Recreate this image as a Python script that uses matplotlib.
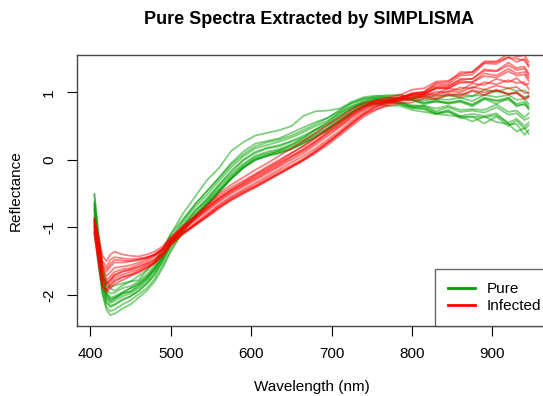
import matplotlib
matplotlib.use("Agg")
import matplotlib.pyplot as plt
from matplotlib.lines import Line2D

plt.rcParams["font.family"] = ["Liberation Sans", "DejaVu Sans"]

wavelength = [405, 410, 415, 420, 425, 430, 440, 450, 460, 470, 480, 490, 500,
              515, 530, 545, 560, 575, 590, 605, 620, 635, 650, 665, 680, 695,
              710, 725, 740, 755, 770, 785, 800, 815, 830, 845, 860, 875, 890,
              905, 920, 930, 940, 945]

# ---- Pure spectra (green) ----
pure = [
    [-0.52, -1.12, -1.59, -1.86, -1.9, -1.94, -1.86, -1.8, -1.78, -1.64, -1.52, -1.33, -1.1, -0.8, -0.55, -0.3, -0.12, 0.13, 0.26, 0.36, 0.4, 0.44, 0.5, 0.65, 0.72, 0.73, 0.76, 0.86, 0.93, 0.95, 0.94, 0.97, 0.91, 0.94, 0.9, 0.96, 0.92, 0.95, 0.96, 1.02, 0.97, 1.0, 0.93, 0.95],
    [-0.95, -1.5, -1.98, -2.22, -2.3, -2.28, -2.2, -2.14, -2.04, -1.94, -1.8, -1.6, -1.36, -1.06, -0.84, -0.66, -0.47, -0.28, -0.12, 0.0, 0.06, 0.14, 0.22, 0.33, 0.45, 0.56, 0.7, 0.79, 0.85, 0.84, 0.8, 0.8, 0.74, 0.71, 0.68, 0.66, 0.64, 0.57, 0.64, 0.56, 0.53, 0.42, 0.47, 0.39],
    [-0.62, -1.18, -1.66, -1.92, -1.98, -1.97, -1.9, -1.87, -1.8, -1.7, -1.56, -1.38, -1.16, -0.9, -0.66, -0.46, -0.26, -0.05, 0.12, 0.24, 0.28, 0.32, 0.4, 0.48, 0.56, 0.62, 0.74, 0.84, 0.9, 0.92, 0.93, 0.9, 0.89, 0.84, 0.88, 0.84, 0.87, 0.81, 0.91, 0.87, 0.89, 0.81, 0.82, 0.77],
    [-0.88, -1.42, -1.88, -2.1, -2.16, -2.14, -2.06, -2.02, -1.94, -1.83, -1.7, -1.5, -1.28, -1.04, -0.83, -0.65, -0.46, -0.27, -0.1, 0.02, 0.08, 0.12, 0.17, 0.26, 0.36, 0.46, 0.58, 0.7, 0.81, 0.86, 0.87, 0.85, 0.79, 0.8, 0.72, 0.78, 0.71, 0.73, 0.7, 0.78, 0.67, 0.69, 0.59, 0.62],
    [-0.75, -1.3, -1.76, -2.0, -2.08, -2.05, -1.97, -1.95, -1.85, -1.77, -1.62, -1.45, -1.21, -0.98, -0.75, -0.59, -0.37, -0.19, -0.01, 0.1, 0.17, 0.2, 0.27, 0.33, 0.44, 0.52, 0.65, 0.76, 0.85, 0.9, 0.92, 0.89, 0.89, 0.82, 0.87, 0.83, 0.86, 0.79, 0.9, 0.83, 0.92, 0.79, 0.83, 0.75],
    [-1.05, -1.56, -1.98, -2.18, -2.24, -2.22, -2.14, -2.08, -1.99, -1.9, -1.76, -1.56, -1.33, -1.06, -0.85, -0.67, -0.47, -0.28, -0.12, 0.0, 0.06, 0.1, 0.16, 0.24, 0.34, 0.44, 0.56, 0.69, 0.8, 0.83, 0.85, 0.82, 0.77, 0.76, 0.68, 0.74, 0.65, 0.68, 0.65, 0.69, 0.53, 0.53, 0.37, 0.44],
    [-0.5, -1.05, -1.55, -1.8, -1.88, -1.86, -1.83, -1.8, -1.72, -1.63, -1.5, -1.32, -1.1, -0.88, -0.66, -0.47, -0.27, -0.07, 0.08, 0.2, 0.26, 0.3, 0.36, 0.44, 0.53, 0.62, 0.72, 0.84, 0.91, 0.94, 0.96, 0.95, 0.95, 0.91, 0.96, 0.95, 0.98, 0.94, 1.04, 1.01, 1.06, 1.02, 1.03, 0.98],
    [-0.82, -1.36, -1.82, -2.06, -2.12, -2.09, -2.02, -1.98, -1.9, -1.8, -1.66, -1.47, -1.25, -1.0, -0.79, -0.61, -0.41, -0.22, -0.06, 0.06, 0.12, 0.16, 0.23, 0.3, 0.4, 0.5, 0.62, 0.74, 0.84, 0.87, 0.88, 0.84, 0.79, 0.78, 0.7, 0.72, 0.62, 0.64, 0.54, 0.64, 0.5, 0.58, 0.46, 0.51],
    [-0.72, -1.28, -1.74, -2.02, -2.1, -2.06, -1.99, -1.95, -1.88, -1.76, -1.63, -1.44, -1.2, -0.93, -0.7, -0.52, -0.31, -0.11, 0.05, 0.17, 0.22, 0.27, 0.33, 0.41, 0.5, 0.58, 0.69, 0.8, 0.88, 0.92, 0.92, 0.92, 0.91, 0.88, 0.9, 0.89, 0.92, 0.87, 0.96, 0.93, 0.96, 0.89, 0.9, 0.83],
    [-0.68, -1.22, -1.7, -1.96, -2.04, -2.02, -1.96, -1.9, -1.84, -1.74, -1.6, -1.42, -1.22, -1.02, -0.82, -0.63, -0.44, -0.25, -0.08, 0.04, 0.1, 0.14, 0.2, 0.28, 0.38, 0.47, 0.6, 0.72, 0.82, 0.87, 0.88, 0.86, 0.81, 0.8, 0.76, 0.8, 0.74, 0.75, 0.74, 0.82, 0.71, 0.73, 0.63, 0.69],
    [-0.92, -1.45, -1.9, -2.12, -2.18, -2.15, -2.08, -2.02, -1.94, -1.84, -1.7, -1.5, -1.25, -0.98, -0.76, -0.57, -0.37, -0.16, 0.0, 0.12, 0.18, 0.22, 0.28, 0.36, 0.45, 0.54, 0.66, 0.77, 0.86, 0.9, 0.9, 0.9, 0.89, 0.85, 0.86, 0.85, 0.88, 0.82, 0.92, 0.88, 0.92, 0.83, 0.86, 0.79],
    [-0.65, -1.2, -1.68, -1.98, -2.06, -2.04, -1.97, -1.9, -1.83, -1.73, -1.6, -1.44, -1.26, -1.05, -0.85, -0.67, -0.48, -0.28, -0.12, 0.0, 0.06, 0.1, 0.16, 0.25, 0.34, 0.43, 0.55, 0.68, 0.79, 0.84, 0.86, 0.83, 0.77, 0.75, 0.68, 0.71, 0.64, 0.64, 0.63, 0.66, 0.55, 0.61, 0.5, 0.55],
]

# ---- Infected spectra (red) ----
infected = [
    [-0.86, -1.12, -1.42, -1.5, -1.4, -1.36, -1.4, -1.42, -1.43, -1.4, -1.36, -1.28, -1.14, -1.0, -0.86, -0.71, -0.57, -0.45, -0.35, -0.24, -0.14, -0.04, 0.06, 0.16, 0.28, 0.41, 0.54, 0.67, 0.78, 0.88, 0.92, 0.96, 1.04, 1.06, 1.16, 1.17, 1.27, 1.3, 1.44, 1.45, 1.52, 1.5, 1.47, 1.38],
    [-1.05, -1.45, -1.84, -1.93, -1.86, -1.8, -1.74, -1.7, -1.66, -1.6, -1.54, -1.42, -1.27, -1.1, -0.97, -0.84, -0.7, -0.59, -0.49, -0.4, -0.3, -0.2, -0.1, 0.0, 0.12, 0.25, 0.39, 0.53, 0.67, 0.75, 0.8, 0.84, 0.85, 0.91, 0.9, 0.96, 0.94, 1.02, 0.96, 1.04, 0.97, 0.99, 0.9, 0.93],
    [-0.9, -1.22, -1.58, -1.66, -1.58, -1.52, -1.52, -1.5, -1.48, -1.45, -1.4, -1.31, -1.17, -1.02, -0.87, -0.72, -0.58, -0.46, -0.36, -0.26, -0.16, -0.06, 0.05, 0.15, 0.27, 0.4, 0.52, 0.66, 0.77, 0.84, 0.88, 0.92, 0.98, 1.0, 1.09, 1.1, 1.18, 1.2, 1.32, 1.31, 1.4, 1.33, 1.35, 1.25],
    [-1.0, -1.38, -1.78, -1.86, -1.8, -1.74, -1.7, -1.66, -1.62, -1.56, -1.5, -1.38, -1.22, -1.04, -0.88, -0.74, -0.6, -0.48, -0.38, -0.28, -0.18, -0.08, 0.03, 0.13, 0.25, 0.38, 0.5, 0.64, 0.76, 0.83, 0.86, 0.9, 0.93, 0.94, 1.01, 1.0, 1.07, 1.06, 1.15, 1.12, 1.18, 1.14, 1.15, 1.05],
    [-0.88, -1.18, -1.5, -1.58, -1.48, -1.44, -1.46, -1.47, -1.46, -1.44, -1.4, -1.32, -1.2, -1.08, -0.95, -0.82, -0.68, -0.56, -0.46, -0.37, -0.27, -0.17, -0.08, 0.02, 0.14, 0.27, 0.4, 0.55, 0.68, 0.78, 0.84, 0.9, 0.97, 1.0, 1.12, 1.12, 1.25, 1.26, 1.43, 1.42, 1.52, 1.45, 1.5, 1.4],
    [-1.1, -1.5, -1.86, -1.92, -1.84, -1.78, -1.73, -1.7, -1.64, -1.58, -1.52, -1.4, -1.24, -1.08, -0.94, -0.8, -0.66, -0.54, -0.44, -0.34, -0.24, -0.14, -0.04, 0.06, 0.17, 0.3, 0.43, 0.58, 0.71, 0.8, 0.84, 0.87, 0.89, 0.94, 0.93, 0.98, 0.96, 1.03, 1.0, 1.03, 0.98, 1.0, 0.91, 0.94],
    [-0.95, -1.3, -1.68, -1.78, -1.72, -1.66, -1.62, -1.6, -1.55, -1.5, -1.43, -1.33, -1.18, -1.0, -0.84, -0.68, -0.5, -0.37, -0.26, -0.15, -0.05, 0.06, 0.17, 0.28, 0.4, 0.52, 0.63, 0.75, 0.84, 0.88, 0.9, 0.93, 0.97, 0.98, 1.06, 1.06, 1.14, 1.15, 1.24, 1.22, 1.31, 1.25, 1.26, 1.17],
    [-0.98, -1.34, -1.72, -1.82, -1.76, -1.7, -1.65, -1.62, -1.58, -1.53, -1.47, -1.37, -1.24, -1.1, -0.97, -0.85, -0.72, -0.6, -0.5, -0.41, -0.31, -0.21, -0.11, -0.01, 0.1, 0.22, 0.36, 0.5, 0.64, 0.74, 0.82, 0.88, 0.95, 0.97, 1.07, 1.08, 1.2, 1.2, 1.34, 1.32, 1.44, 1.36, 1.38, 1.28],
    [-0.92, -1.26, -1.62, -1.72, -1.66, -1.6, -1.58, -1.56, -1.52, -1.47, -1.41, -1.32, -1.16, -0.98, -0.83, -0.68, -0.53, -0.41, -0.31, -0.21, -0.1, 0.0, 0.1, 0.2, 0.32, 0.45, 0.58, 0.7, 0.8, 0.88, 0.88, 0.9, 0.91, 0.96, 0.96, 1.02, 1.0, 1.08, 1.04, 1.1, 1.06, 1.08, 0.99, 1.0],
    [-1.0, -1.36, -1.74, -1.84, -1.78, -1.71, -1.66, -1.63, -1.59, -1.54, -1.48, -1.38, -1.24, -1.08, -0.96, -0.83, -0.7, -0.58, -0.48, -0.39, -0.29, -0.2, -0.1, 0.0, 0.12, 0.25, 0.39, 0.54, 0.68, 0.79, 0.86, 0.92, 0.99, 1.01, 1.14, 1.15, 1.3, 1.3, 1.46, 1.46, 1.57, 1.53, 1.55, 1.45],
    [-0.9, -1.2, -1.55, -1.62, -1.54, -1.48, -1.49, -1.5, -1.48, -1.45, -1.41, -1.33, -1.19, -1.04, -0.9, -0.76, -0.62, -0.5, -0.4, -0.3, -0.2, -0.1, 0.0, 0.1, 0.22, 0.35, 0.48, 0.62, 0.74, 0.82, 0.86, 0.89, 0.92, 0.98, 0.98, 1.06, 1.03, 1.13, 1.11, 1.2, 1.15, 1.21, 1.11, 1.13],
    [-1.08, -1.5, -1.9, -1.96, -1.9, -1.84, -1.78, -1.72, -1.67, -1.6, -1.52, -1.4, -1.23, -1.03, -0.87, -0.71, -0.56, -0.44, -0.33, -0.22, -0.12, -0.02, 0.1, 0.21, 0.33, 0.46, 0.57, 0.7, 0.8, 0.85, 0.88, 0.92, 0.96, 0.97, 1.06, 1.06, 1.16, 1.15, 1.28, 1.25, 1.35, 1.28, 1.3, 1.21],
]

x_ticks = [400, 500, 600, 700, 800, 900]
y_ticks = [-2, -1, 0, 1]
green = "#00A000"
red = "#FF0000"

fig = plt.figure(figsize=(5.43, 3.96), dpi=100)
ax = fig.add_axes([0.1418, 0.1768, 0.8637, 0.6843])

for spec in pure:
    ax.plot(wavelength, spec, color=green, alpha=0.5, lw=1.3)
for spec in infected:
    ax.plot(wavelength, spec, color=red, alpha=0.5, lw=1.3)

ax.set_xlim(383.4, 966.6)
ax.set_ylim(-2.46, 1.553)
ax.set_xticks(x_ticks)
ax.set_yticks(y_ticks)
ax.set_yticklabels([str(v) for v in y_ticks], rotation=90, va="center")
ax.tick_params(direction="out", length=7, width=0.8, labelsize=11, pad=8)
for s in ax.spines.values():
    s.set_color("#444444")
    s.set_linewidth(1)

ax.set_xlabel("Wavelength (nm)", fontsize=11, labelpad=14)
ax.set_ylabel("Reflectance", fontsize=11, labelpad=14)
fig.text(0.569, 0.952, "Pure Spectra Extracted by SIMPLISMA", ha="center", va="center",
         fontsize=13, fontweight="bold")

handles = [Line2D([], [], color=green, lw=2), Line2D([], [], color=red, lw=2)]
leg = ax.legend(handles, ["Pure", "Infected"], loc="lower left", bbox_to_anchor=(0.763, 0.0),
                borderaxespad=0, fancybox=False, fontsize=11, handlelength=1.8,
                handletextpad=0.75, labelspacing=0.2, borderpad=0.85)
leg.get_frame().set_edgecolor("#444444")
leg.get_frame().set_linewidth(1)

fig.savefig("out.png", dpi=100)
